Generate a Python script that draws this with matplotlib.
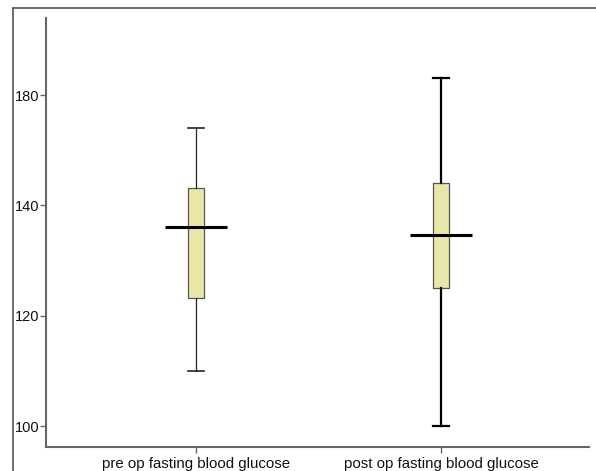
# Boxplot of fasting blood glucose before and after the operation

import matplotlib
matplotlib.use("Agg")
import matplotlib.pyplot as plt
from matplotlib.lines import Line2D

# --------------------------------------------------------------------
# Data (in axis units)
# --------------------------------------------------------------------

groups = ["pre op fasting blood glucose", "post op fasting blood glucose"]
whisker_low = [110.0, 100.0]
q1 = [123.2, 125.0]
median = [136.1, 134.6]
q3 = [143.2, 144.1]
whisker_high = [154.0, 163.1]

ytick_pos = [100, 120, 140, 160]
ytick_labels = ["100", "120", "140", "180"]  # as printed on the original

# --------------------------------------------------------------------
# Plot
# --------------------------------------------------------------------

plt.rcParams["font.family"] = ["Liberation Sans", "DejaVu Sans"]

fig = plt.figure(figsize=(5.96, 4.71), dpi=100)
ax = fig.add_axes([46 / 596, 24 / 471, 543 / 596, 429 / 471])

stats = []
for i, name in enumerate(groups):
    stats.append({
        "label": name,
        "whislo": whisker_low[i],
        "q1": q1[i],
        "med": median[i],
        "q3": q3[i],
        "whishi": whisker_high[i],
        "fliers": [],
    })

positions = [1, 2]
res = ax.bxp(stats, positions=positions, widths=0.065, patch_artist=True,
             showfliers=False, capwidths=0.065,
             boxprops=dict(facecolor="#E9E6A7", edgecolor="#555555", linewidth=0.9),
             medianprops=dict(linewidth=0),
             whiskerprops=dict(color="#222222", linewidth=0.9),
             capprops=dict(color="#222222", linewidth=1.2))

# post op whiskers are drawn heavier in the original
for art in res["whiskers"][2:] + res["caps"][2:]:
    art.set_linewidth(1.6)
    art.set_color("black")

# wide median bars
ax.hlines(median, [p - 0.125 for p in positions], [p + 0.125 for p in positions],
          color="black", linewidth=2.2, zorder=5)

ax.set_xlim(0.388, 2.604)
ax.set_ylim(96.2, 174.0)
ax.set_xticks(positions)
ax.set_xticklabels(groups, fontsize=10.8)
ax.set_yticks(ytick_pos)
ax.set_yticklabels(ytick_labels, fontsize=10.5)

for side in ["top", "right"]:
    ax.spines[side].set_visible(False)
for side in ["left", "bottom"]:
    ax.spines[side].set_color("#666666")
    ax.spines[side].set_linewidth(1.5)
ax.tick_params(colors="#666666", labelcolor="#111111", length=4, width=1)
ax.tick_params(axis="y", pad=1)
ax.tick_params(axis="x", pad=3)

# outer frame of the original figure
fig.add_artist(Line2D([13 / 596, 1], [1 - 8 / 471, 1 - 8 / 471],
                      transform=fig.transFigure, color="#555555", linewidth=1.2))
fig.add_artist(Line2D([13 / 596, 13 / 596], [0, 1 - 8 / 471],
                      transform=fig.transFigure, color="#555555", linewidth=1.2))

fig.savefig("out.png", dpi=100)
